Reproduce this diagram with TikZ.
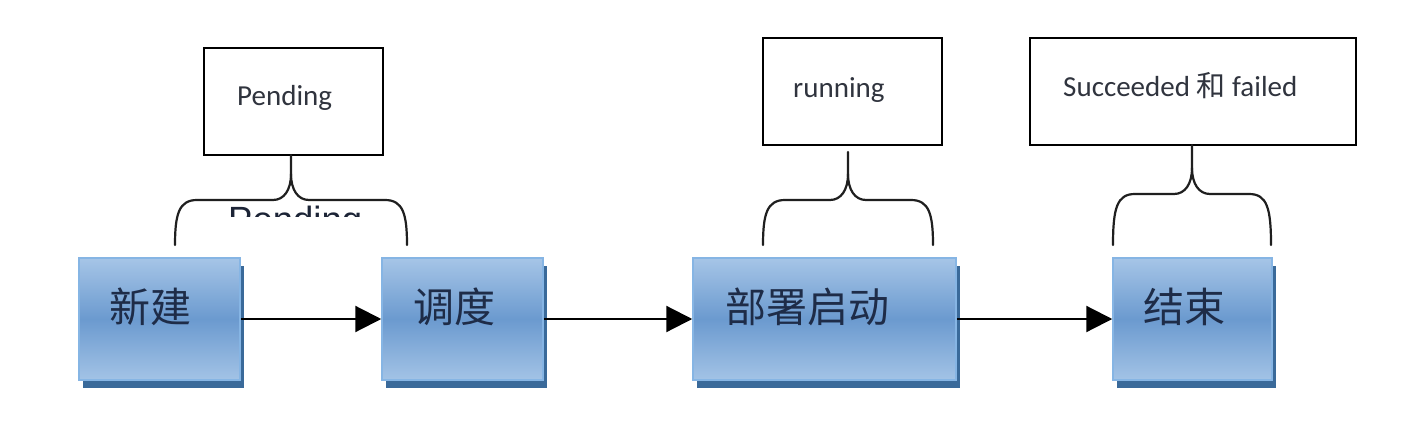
\documentclass[tikz,border=0pt]{standalone}
\usepackage{fontspec}
\setmainfont{Carlito}
\newfontfamily\cjkfont{Noto Sans CJK SC}
\newfontfamily\arialfont{Liberation Sans}
\usetikzlibrary{arrows.meta,shadows}
\definecolor{btop}{HTML}{A6C5E7}
\definecolor{bmid}{HTML}{6B9ACF}
\definecolor{bbot}{HTML}{A3C3E6}
\definecolor{bedge}{HTML}{86B5E4}
\definecolor{bshadow}{HTML}{3A6A9A}
\definecolor{cjktext}{HTML}{1E2C48}
\definecolor{lattext}{HTML}{30343E}
\definecolor{ghosttext}{HTML}{1C2436}
\newcommand{\bracedraw}[6]{%
  % #1 left, #2 right, #3 tip x, #4 horizontal y, #5 top y, #6 bottom y
  \draw[bracestyle] (#1,#6) .. controls (#1,#4+14) and (#1+4,#4) .. (#1+22,#4)
    -- (#3-18,#4) .. controls (#3-7,#4) and (#3,#4-10) .. (#3,#4-26) -- (#3,#5);
  \draw[bracestyle] (#2,#6) .. controls (#2,#4+14) and (#2-4,#4) .. (#2-22,#4)
    -- (#3+18,#4) .. controls (#3+7,#4) and (#3,#4-10) .. (#3,#4-26);
}
\begin{document}
\begin{tikzpicture}[x=1pt,y=-1pt,
  bluebox/.style={draw=bedge, line width=1.5pt, top color=btop, bottom color=bbot, middle color=bmid,
    drop shadow={shadow xshift=4pt, shadow yshift=-8pt, fill=bshadow, opacity=1},
    minimum height=122pt, inner sep=0pt},
  cjklabel/.style={font=\cjkfont\fontsize{41}{45}\selectfont, text=cjktext, inner sep=0pt},
  topbox/.style={draw=black, line width=2.9pt, minimum height=107pt, inner sep=0pt, fill=white},
  toplabel/.style={font=\fontsize{29}{33}\selectfont, text=lattext, inner sep=0pt, anchor=base west},
  arr/.style={line width=2.2pt, -{Triangle[length=26pt,width=26pt]}},
  bracestyle/.style={line width=2.2pt, draw=black!88, line cap=round}]
\useasboundingbox[fill=white] (0,0) rectangle (1402,436);

% blue boxes
\node[bluebox, minimum width=161pt] (b1) at (159.5,319) {};
\node[bluebox, minimum width=161pt] (b2) at (462.5,319) {};
\node[bluebox, minimum width=263pt] (b3) at (824.5,319) {};
\node[bluebox, minimum width=159pt] (b4) at (1192.5,319) {};
\node[cjklabel] (t1) at (150,307) {新建};
\node[cjklabel] (t2) at (454,307) {调度};
\node[cjklabel] (t3) at (807,307) {部署启动};
\node[cjklabel] (t4) at (1184,307) {结束};

% arrows
\draw[arr] (b1.east) -- (b2.west);
\draw[arr] (b2.east) -- (b3.west);
\draw[arr] (b3.east) -- (b4.west);

% top boxes
\node[topbox, minimum width=179pt] (pbox) at (293.5,101.5) {};
\node[topbox, minimum width=179pt] (rbox) at (852.5,91.5) {};
\node[topbox, minimum width=326pt] (sbox) at (1193,91.5) {};
\node[toplabel] (ptext) at (237,105) {Pending};
\node[toplabel] (rtext) at (793,97) {running};
\node[toplabel] (stext) at (1063,96) {Succeeded {\cjkfont 和} failed};

% braces
\bracedraw{175}{407}{291}{200}{155}{245}
\bracedraw{763}{933}{848}{200}{152}{245}
\bracedraw{1113}{1271}{1192}{194}{145}{245}

% clipped ghost text under the first brace
\begin{scope}
\clip (215,205) rectangle (375,216);
\node[font=\arialfont\fontsize{36.5}{40}\selectfont, text=ghosttext, inner sep=0pt, anchor=base west] (ghost) at (228,232) {Pending};
\end{scope}
\end{tikzpicture}
\end{document}
